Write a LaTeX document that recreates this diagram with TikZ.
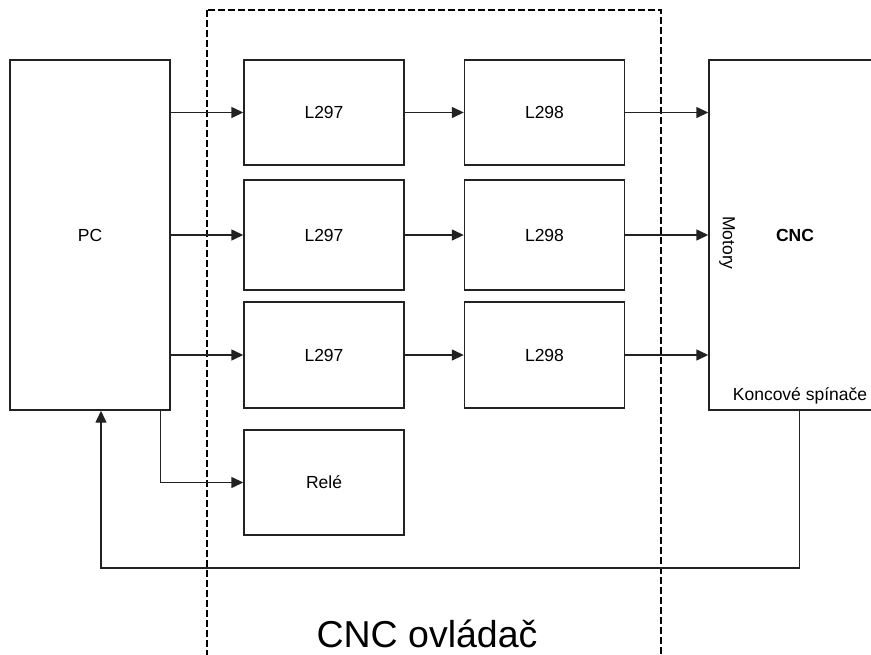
\documentclass[tikz,border=0pt]{standalone}
\usepackage{fontspec}
\setmainfont{Liberation Sans}
\usepackage{tikz}
\usetikzlibrary{positioning,arrows.meta,calc}
\definecolor{lineblack}{HTML}{222222}

\begin{document}
\begin{tikzpicture}[x=1pt,y=-1pt,
 blk/.style={draw=lineblack,line width=1.4pt,minimum width=160pt,inner sep=0pt},
 conn/.style={-{Triangle[length=12pt,width=11pt]},line width=1.4pt,lineblack},
 frame/.style={line width=2.5pt,dash pattern=on 7pt off 3pt,black},
 lab/.style={font=\fontsize{17.5}{20}\selectfont}]
\useasboundingbox (0,0) rectangle (871,654);
\clip (0,0) rectangle (871,654);
% dashed controller frame
\draw[frame] (207,10) rectangle (661,690);
\node[font=\fontsize{37.5}{42}\selectfont] (title) at (427,634) {CNC ovládač};
% PC and machine
\node[blk,lab,minimum height=350pt] (pc) at (90,235) {PC};
\node[blk,minimum width=181pt,minimum height=350pt] (cnc) at (799.5,235) {};
\node[font=\fontsize{17.5}{20}\selectfont\bfseries] (cnclab) at (795,235) {CNC};
\node[lab,rotate=-90] (motory) at (727,243) {Motory};
\node[lab] (konc) at (800,396) {Koncové spínače};
% driver rows
\foreach \i/\y/\h in {1/112.5/105,2/235/110,3/355/106}{
  \node[blk,lab,minimum height=\h pt] (a\i) at (324,\y) {L297};
  \node[blk,lab,minimum height=\h pt] (b\i) at (544.5,\y) {L298};
  \draw[conn] (pc.east |- a\i.west) -- (a\i.west);
  \draw[conn] (a\i.east) -- (b\i.west);
  \draw[conn] (b\i.east) -- (cnc.west |- b\i.east);
}
\node[blk,lab,minimum height=105pt] (rele) at (324,482.5) {Relé};
\draw[conn] ($(pc.south east)+(-10,0)$) |- (rele.west);
% feedback from limit switches
\coordinate (fb) at (101,568);
\draw[conn] (cnc.south) |- (fb) -- (fb |- pc.south);
\end{tikzpicture}
\end{document}
